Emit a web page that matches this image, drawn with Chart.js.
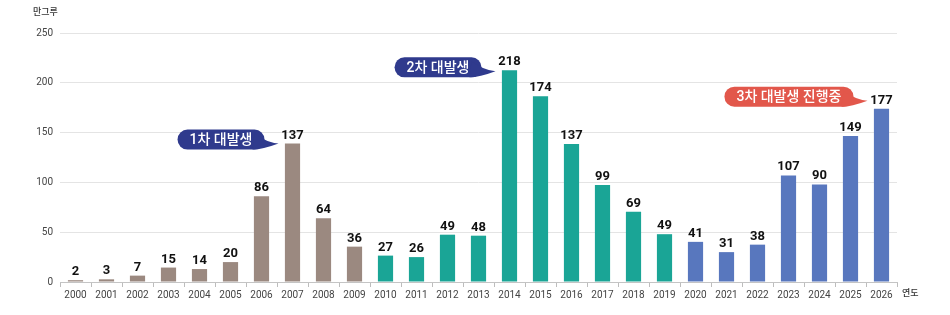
<!DOCTYPE html>
<html><head><meta charset="utf-8">
<script src="https://cdn.jsdelivr.net/npm/chart.js@4.4.1/dist/chart.umd.min.js"></script>
<style>html,body{margin:0;padding:0;background:#fff}#wrap{width:950px;height:315px;position:relative}</style>
</head><body><div id="wrap"><canvas id="c" width="950" height="315"></canvas></div>
<script>
const years = ['2000','2001','2002','2003','2004','2005','2006','2007','2008','2009','2010','2011','2012','2013','2014','2015','2016','2017','2018','2019','2020','2021','2022','2023','2024','2025','2026'];
// bar heights as drawn in the picture
const barValues = [1.8,2.7,6.4,14.5,13,20,86,139,64,35.5,26.5,25,47.5,46.5,212.5,186.5,138.5,97.5,70.5,48,40.3,30,37.5,107,98,146.5,174];
// value labels printed above the bars
const valueLabels = ['2','3','7','15','14','20','86','137','64','36','27','26','49','48','218','174','137','99','69','49','41','31','38','107','90','149','177'];
const phases = [1,1,1,1,1,1,1,1,1,1,2,2,2,2,2,2,2,2,2,2,3,3,3,3,3,3,3];
const yTicks = [0,50,100,150,200,250];
const callouts = [
  {index:7, text:'1차 대발생', color:'#2f3a8d', dy:0},
  {index:14, text:'2차 대발생', color:'#2f3a8d', dy:1},
  {index:26, text:'3차 대발생 진행중', color:'#e2574b', dy:-8}
];
const phaseColors = {1:'#9b8980', 2:'#1aa596', 3:'#5877be'};
const FONT = "Roboto, 'Noto Sans CJK KR', sans-serif";

const labelPlugin = {
  id:'vlabels',
  afterDatasetsDraw(chart){
    const ctx = chart.ctx;
    const meta = chart.getDatasetMeta(0);
    ctx.save();
    ctx.font = "bold 13px " + FONT;
    ctx.fillStyle = '#111';
    ctx.textAlign = 'center';
    ctx.textBaseline = 'alphabetic';
    meta.data.forEach((bar,i)=>{
      ctx.fillText(valueLabels[i], bar.x, bar.y - 5);
    });
    // callouts
    ctx.font = "500 14px " + FONT;
    callouts.forEach(c=>{
      const bar = meta.data[c.index];
      const tipX = bar.x - 14, tipY = bar.y + c.dy;
      const tw = ctx.measureText(c.text).width;
      const w = tw + 24, h = 20;
      const right = tipX - 14;
      const left = right - w;
      const cy = tipY - 4;
      const top = cy - h/2, bottom = cy + h/2;
      ctx.fillStyle = c.color;
      ctx.beginPath();
      ctx.moveTo(left + h/2, top);
      ctx.lineTo(right - h/2, top);
      ctx.arc(right - h/2, cy, h/2, -Math.PI/2, Math.PI/2);
      ctx.lineTo(left + h/2, bottom);
      ctx.arc(left + h/2, cy, h/2, Math.PI/2, Math.PI*1.5);
      ctx.closePath();
      ctx.fill();
      // tail
      ctx.beginPath();
      ctx.moveTo(right - 10, top + 4);
      ctx.quadraticCurveTo(right + 2, tipY - 1, tipX, tipY);
      ctx.quadraticCurveTo(right - 2, bottom, right - 12, bottom);
      ctx.closePath();
      ctx.fill();
      ctx.fillStyle = '#fff';
      ctx.textAlign = 'center';
      ctx.textBaseline = 'middle';
      ctx.fillText(c.text, (left + right)/2, cy + 1);
    });
    // axis titles
    ctx.font = "500 9px " + FONT;
    ctx.fillStyle = '#333';
    ctx.textAlign = 'left';
    ctx.textBaseline = 'middle';
    ctx.fillText('만그루', 33, 13);
    ctx.fillText('연도', chart.chartArea.right + 5, 294);
    ctx.restore();
  }
};

new Chart(document.getElementById('c'), {
  type:'bar',
  data:{labels:years, datasets:[{
    data:barValues,
    backgroundColor:phases.map(p=>phaseColors[p]),
    borderWidth:0,
    barPercentage:0.49,
    categoryPercentage:1.0
  }]},
  options:{
    responsive:false, animation:false,
    devicePixelRatio:1,
    layout:{padding:{left:0,right:53,top:33,bottom:0}},
    plugins:{legend:{display:false}, tooltip:{enabled:false}},
    scales:{
      x:{
        grid:{display:true, drawOnChartArea:false, drawTicks:true, tickLength:5, color:'#bdbdbd', offset:true},
        border:{display:true, color:'#c4c4c4'},
        ticks:{color:'#444', font:{family:FONT, size:10}, padding:2, maxRotation:0, autoSkip:false},
        afterFit(s){ s.height = 33; }
      },
      y:{
        min:0, max:250,
        afterBuildTicks(s){ s.ticks = yTicks.map(v=>({value:v})); },
        grid:{color:'#e4e4e4', drawTicks:false},
        border:{display:false},
        ticks:{color:'#444', font:{family:FONT, size:10}, padding:7},
        afterFit(s){ s.width = 60; }
      }
    }
  },
  plugins:[labelPlugin]
});
</script></body></html>
